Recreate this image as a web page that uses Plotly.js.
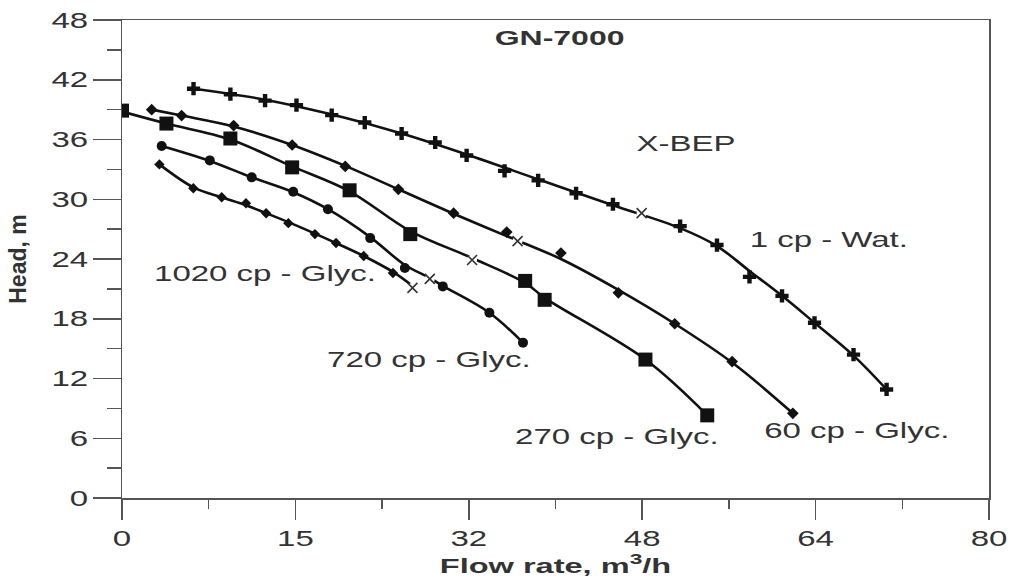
<!DOCTYPE html>
<html>
<head>
<meta charset="utf-8">
<script src="https://cdn.plot.ly/plotly-3.0.1.min.js"></script>
<style>html,body{margin:0;padding:0;background:#fff;}#chart{width:1018px;height:584px;}</style>
</head>
<body>
<div id="chart"></div>
<script>
var waterX = [6.6, 10.0, 13.2, 16.1, 19.35, 22.4, 25.8, 28.9, 31.8, 35.3, 38.4, 41.9, 45.3, 51.5, 54.9, 57.9, 60.9, 63.9, 67.5, 70.55];
var waterY = [41.1, 40.55, 39.9, 39.45, 38.45, 37.7, 36.6, 35.7, 34.4, 32.85, 31.9, 30.6, 29.5, 27.3, 25.4, 22.2, 20.3, 17.6, 14.4, 10.9];

var g60X = [2.74, 5.5, 10.3, 15.7, 20.6, 25.5, 30.6, 35.5, 40.5, 45.8, 51.0, 56.3, 61.9];
var g60Y = [39.0, 38.4, 37.4, 35.45, 33.3, 31.0, 28.6, 26.7, 24.6, 20.6, 17.5, 13.7, 8.5];

var g270X = [0, 4.1, 10.0, 15.7, 21.0, 26.6, 37.2, 39.0, 48.3, 54.0];
var g270Y = [38.9, 37.6, 36.1, 33.2, 30.9, 26.5, 21.8, 19.9, 13.9, 8.3];

var g720X = [3.66, 8.1, 11.97, 15.8, 19.0, 22.9, 26.1, 29.6, 33.9, 37.0];
var g720Y = [35.35, 33.9, 32.2, 30.75, 29.0, 26.1, 23.1, 21.25, 18.6, 15.6];

var g1020X = [3.45, 6.58, 9.2, 11.44, 13.3, 15.35, 17.8, 19.75, 22.3, 25.0];
var g1020Y = [33.5, 31.1, 30.2, 29.6, 28.6, 27.6, 26.5, 25.6, 24.3, 22.6];

// ---- drawn performance curves ----
var waterLineX = [6.6, 13.2, 19.4, 25.8, 31.8, 38.4, 45.3, 51.5, 54.9, 57.9, 60.9, 63.9, 67.5, 70.55];
var waterLineY = [41.1, 40.0, 38.5, 36.6, 34.5, 32.0, 29.4, 27.1, 25.3, 22.8, 20.3, 17.6, 14.3, 10.9];

var g60LineX = [2.74, 5.5, 10.3, 15.7, 20.6, 25.5, 30.6, 35.5, 40.5, 45.8, 51.0, 56.3, 61.9];
var g60LineY = [39.0, 38.4, 37.3, 35.45, 33.35, 31.0, 28.55, 26.3, 24.0, 20.9, 17.5, 13.6, 8.5];

var g270LineX = [0, 4.1, 10.0, 15.7, 21.0, 26.6, 32.3, 37.2, 39.0, 48.3, 54.0];
var g270LineY = [38.8, 37.6, 36.0, 33.3, 30.8, 26.8, 24.1, 21.6, 20.1, 13.9, 8.3];

var g720LineX = [3.66, 8.1, 11.97, 15.8, 19.0, 22.9, 26.1, 28.4, 29.6, 33.9, 37.0];
var g720LineY = [35.35, 33.85, 32.2, 30.7, 29.0, 26.2, 23.4, 22.1, 21.3, 18.6, 15.6];

var g1020LineX = [3.45, 6.58, 9.2, 11.44, 13.3, 15.35, 17.8, 19.75, 22.3, 25.0, 26.8];
var g1020LineY = [33.5, 31.2, 30.2, 29.4, 28.6, 27.7, 26.55, 25.6, 24.3, 22.7, 21.3];

// ---- best efficiency points (X marks) ----
var bepX = [47.95, 36.5, 32.3, 28.4, 26.8];
var bepY = [28.6, 25.8, 23.9, 22.0, 21.1];

// ---- axis ticks and labels ----
var xTickVals = [0, 16, 32, 48, 64, 80];
var xTickText = ['0', '15', '32', '48', '64', '80'];

var labelText = ['GN-7000', 'X-BEP', '1 cp - Wat.', '60 cp - Glyc.', '270 cp - Glyc.', '720 cp - Glyc.', '1020 cp - Glyc.'];
var labelX = [40.4, 52.0, 65.2, 67.8, 45.7, 28.3, 13.2];
var labelY = [46.2, 35.6, 26.0, 6.8, 6.2, 13.9, 22.5];

var ptsX = [waterX, g60X, g270X, g720X, g1020X];
var ptsY = [waterY, g60Y, g270Y, g720Y, g1020Y];
var lineX = [waterLineX, g60LineX, g270LineX, g720LineX, g1020LineX];
var lineY = [waterLineY, g60LineY, g270LineY, g720LineY, g1020LineY];
var symbols = ['cross', 'diamond', 'square', 'circle', 'diamond'];
var sizes = [11, 9, 14, 10, 8];
var names = ['1 cp - Wat.', '60 cp - Glyc.', '270 cp - Glyc.', '720 cp - Glyc.', '1020 cp - Glyc.'];

var traces = [];
for (var i = 0; i < ptsX.length; i++) {
  traces.push({
    x: lineX[i], y: lineY[i], mode: 'lines', type: 'scatter', name: names[i] + ' curve',
    line: {color: '#111', width: 2.6, shape: 'spline', smoothing: 1.0}
  });
}
for (var i2 = 0; i2 < ptsX.length; i2++) {
  traces.push({
    x: ptsX[i2], y: ptsY[i2], mode: 'markers', type: 'scatter', name: names[i2],
    marker: {symbol: symbols[i2], size: sizes[i2], color: '#111', line: {width: 0}}
  });
}
// small white gap around each BEP cross, then the cross itself
traces.push({
  x: bepX, y: bepY, mode: 'markers', type: 'scatter', name: 'BEP gap',
  marker: {symbol: 'circle', size: 10, color: '#fff', line: {width: 0}}
});
traces.push({
  x: bepX, y: bepY, mode: 'markers', type: 'scatter', name: 'BEP',
  marker: {symbol: 'x-thin-open', size: 10, color: '#333', line: {width: 1.6, color: '#333'}}
});

var annotations = [];
for (var k = 0; k < labelText.length; k++) {
  annotations.push({
    x: labelX[k], y: labelY[k], xref: 'x', yref: 'y',
    text: k === 0 ? '<b>' + labelText[k] + '</b>' : labelText[k],
    showarrow: false,
    font: {family: 'Liberation Sans, Arial, sans-serif', size: k === 0 ? 20 : 22, color: '#333'}
  });
}

var layout = {
  width: 1018, height: 584,
  margin: {l: 122, r: 29, t: 20, b: 86},
  paper_bgcolor: '#fff', plot_bgcolor: '#fff',
  showlegend: false,
  font: {family: 'Liberation Sans, Arial, sans-serif', color: '#333'},
  xaxis: {
    range: [0, 80], tickmode: 'array', tickvals: xTickVals, ticktext: xTickText,
    showgrid: false, zeroline: false, showline: true, linecolor: '#555', linewidth: 1.5,
    mirror: true, ticks: 'outside', ticklen: 20, tickwidth: 1.5, tickcolor: '#555',
    tickfont: {size: 22, color: '#333'},
    minor: {dtick: 8, tick0: 0, ticks: 'outside', ticklen: 9, tickwidth: 1.5, tickcolor: '#555', showgrid: false},
    title: {text: '<b>Flow rate, m<sup>3</sup>/h</b>', font: {size: 21, color: '#333'}, standoff: 6}
  },
  yaxis: {
    range: [0, 48], tickmode: 'linear', tick0: 0, dtick: 6,
    showgrid: false, zeroline: false, showline: true, linecolor: '#555', linewidth: 1.5,
    mirror: true, ticks: 'outside', ticklen: 28, tickwidth: 1.5, tickcolor: '#555',
    tickfont: {size: 22, color: '#333'},
    minor: {dtick: 3, tick0: 0, ticks: 'outside', ticklen: 14, tickwidth: 1.5, tickcolor: '#555', showgrid: false},
    title: {text: '<b>Head, m</b>', font: {size: 23, color: '#333'}, standoff: 30}
  },
  annotations: annotations
};

// The reference lettering is drawn wide; widen each text horizontally (still real text).
function widenTexts() {
  var texts = document.querySelectorAll('#chart svg text');
  for (var n = 0; n < texts.length; n++) {
    var t = texts[n];
    if (t.closest('.g-ytitle')) continue;
    if (t.getAttribute('data-widened')) continue;
    var w = t.getComputedTextLength();
    if (!(w > 0)) continue;
    var f = 1.5;
    if (t.closest('.g-xtitle')) f = 1.55;
    if (t.textContent === 'GN-7000') f = 1.6;
    t.setAttribute('textLength', (w * f).toFixed(1));
    t.setAttribute('lengthAdjust', 'spacingAndGlyphs');
    t.setAttribute('data-widened', '1');
  }
}

Plotly.newPlot('chart', traces, layout, {displayModeBar: false, staticPlot: true}).then(widenTexts);
</script>
</body>
</html>
